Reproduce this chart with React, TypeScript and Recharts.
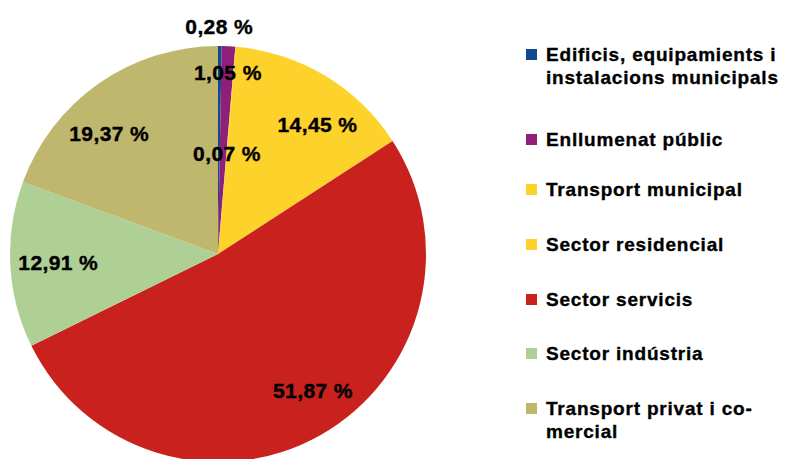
import { PieChart, Pie, Cell } from "recharts"

const categories = [
  "Edificis, equipamients i instalacions municipals",
  "Enllumenat públic",
  "Transport municipal",
  "Sector residencial",
  "Sector servicis",
  "Sector indústria",
  "Transport privat i co-mercial",
]
const shares = [0.28, 1.05, 0.07, 14.45, 51.87, 12.91, 19.37]
const labels = ["0,28 %", "1,05 %", "0,07 %", "14,45 %", "51,87 %", "12,91 %", "19,37 %"]
const colors = ["#0D4B8E", "#8E2079", "#FDD22B", "#FDD22B", "#C9211E", "#AED095", "#BFB76D"]

// label placement: radius and angle used for each label
const labelPlace = [
  { r: 228, a: 89.7 },
  { r: 182, a: 86.9 },
  { r: 101, a: 84.9 },
  { r: 163, a: 52.4 },
  { r: 166, a: -55.1 },
  { r: 160, a: 183.2 },
  { r: 162, a: 132.2 },
]

// legend rows: lines of text and baseline of first line
const legendRows = [
  { lines: ["Edificis, equipamients i", "instalacions municipals"], y: 61 },
  { lines: ["Enllumenat públic"], y: 146 },
  { lines: ["Transport municipal"], y: 196 },
  { lines: ["Sector residencial"], y: 251 },
  { lines: ["Sector servicis"], y: 306 },
  { lines: ["Sector indústria"], y: 360 },
  { lines: ["Transport privat i co-", "mercial"], y: 415 },
]

const data = categories.map((name, i) => ({ name, value: shares[i] }))

const FONT = "Liberation Sans, Arial, sans-serif"
const CX = 218
const CY = 254

function renderLabel(props: any) {
  const { index } = props
  const p = labelPlace[index]
  const rad = (p.a * Math.PI) / 180
  const x = CX + p.r * Math.cos(rad)
  const y = CY - p.r * Math.sin(rad)
  return (
    <text
      x={x}
      y={y}
      textAnchor="middle"
      dominantBaseline="central"
      fontFamily={FONT}
      fontWeight="bold"
      fontSize={21}
      letterSpacing={0.4}
      fill="#000"
      stroke="#000"
      strokeWidth={0.4}
    >
      {labels[index]}
    </text>
  )
}

function LegendBox() {
  return (
    <g>
      {legendRows.map((row, i) => (
        <g key={i}>
          <rect x={526} y={row.y - 12} width={11} height={11} fill={colors[i]} />
          {row.lines.map((line, j) => (
            <text
              key={j}
              x={546}
              y={row.y + j * 23}
              fontFamily={FONT}
              fontWeight="bold"
              fontSize={19}
              letterSpacing={0.8}
              fill="#000"
              stroke="#000"
              strokeWidth={0.35}
            >
              {line}
            </text>
          ))}
        </g>
      ))}
    </g>
  )
}

export default function App() {
  return (
    <div style={{ position: "fixed", left: 0, top: 0, width: 785, height: 459, background: "#fff" }}>
      <PieChart width={785} height={459} margin={{ top: 0, right: 0, bottom: 0, left: 0 }}>
        <Pie
          data={data}
          dataKey="value"
          cx={CX}
          cy={CY}
          outerRadius={208}
          startAngle={90}
          endAngle={-270}
          stroke="none"
          label={renderLabel}
          labelLine={false}
          isAnimationActive={false}
        >
          {data.map((d, i) => (
            <Cell key={d.name} fill={colors[i]} />
          ))}
        </Pie>
        <LegendBox />
      </PieChart>
    </div>
  )
}
